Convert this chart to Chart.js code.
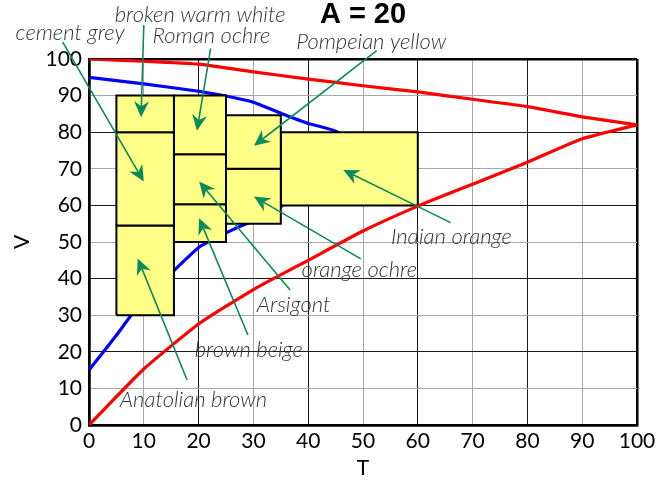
<!DOCTYPE html>
<html>
<head>
<meta charset="utf-8">
<script src="https://cdn.jsdelivr.net/npm/chart.js@4.4.1/dist/chart.umd.min.js"></script>
<style>
  html, body { margin: 0; padding: 0; background: #fff; }
  #wrap { width: 656px; height: 481px; position: relative; }
</style>
</head>
<body>
<div id="wrap"><canvas id="c" width="656" height="481"></canvas></div>
<script>
// ---- Data ----
const tickValues = [0, 10, 20, 30, 40, 50, 60, 70, 80, 90, 100];

// Upper red boundary (T, V)
const redUpperT = [0, 10, 20, 30, 40, 50, 60, 70, 80, 90, 100];
const redUpperV = [100, 99.4, 98.6, 96.5, 94.5, 92.7, 91, 89, 87, 84.2, 82];
// Lower red boundary
const redLowerT = [0, 10, 20, 30, 40, 50, 60, 70, 80, 90, 100];
const redLowerV = [0, 15.3, 27.6, 37, 45, 53, 59.8, 65.8, 71.8, 78.2, 82];
// Blue closed curve (lower branch, hidden connector, upper branch)
const blueT = [0, 5, 7.7, 10, 15.6, 20, 25, 29, 34, 37, 42, 45.5, 40, 35, 30, 25, 20, 10, 0];
const blueV = [15, 24.5, 30, 33.5, 42.3, 48.5, 52.5, 55.2, 58, 63, 72, 80, 82.4, 85.2, 88.2, 89.9, 91.2, 93.2, 95];

// Colour zones (rectangles)
const boxNames = ['broken warm white', 'cement grey', 'Anatolian brown', 'Roman ochre', 'Arsigont', 'brown beige', 'Pompeian yellow', 'orange ochre', 'Indian orange'];
const boxT0 = [5, 5, 5, 15.5, 15.5, 15.5, 25, 25, 35];
const boxT1 = [15.5, 15.5, 15.5, 25, 25, 25, 35, 35, 60];
const boxV0 = [80, 54.5, 30, 74, 60.3, 50, 70, 55, 60];
const boxV1 = [90, 80, 54.5, 90, 74, 60.3, 84.6, 70, 80];

// Annotation labels: text anchor (left, middle) and arrow from/to, in data units
const labelText = ['cement grey', 'broken warm white', 'Roman ochre', 'Pompeian yellow', 'Indian orange', 'orange ochre', 'Arsigont', 'brown beige', 'Anatolian brown'];
const labelT = [-13.4, 4.7, 11.6, 37.8, 55.1, 38.8, 30.6, 19.3, 5.6];
const labelV = [107.1, 112.0, 106.3, 104.6, 51.3, 42.3, 32.8, 20.5, 6.8];
const arrowFromT = [-4.8, 10.0, 22.2, 52.5, 66.0, 49.6, 36.7, 29.0, 17.9];
const arrowFromV = [104.6, 109.3, 102.9, 102.3, 55.3, 45.4, 36.9, 24.6, 12.3];
const arrowToT = [10.0, 9.5, 19.7, 30.1, 46.4, 30.1, 20.1, 20.1, 8.9];
const arrowToV = [66.5, 84.1, 80.4, 76.3, 69.7, 62.4, 66.5, 56.5, 45.5];

const titleText = 'A = 20';
const titleT = 50, titleV = 112;

// ---- Build datasets ----
const zip = (xs, ys) => xs.map((x, i) => ({ x, y: ys[i] }));

const datasets = [];
datasets.push({
  label: 'upper', data: zip(redUpperT, redUpperV), borderColor: '#ff0000', borderWidth: 3.2,
  pointRadius: 0, fill: false, tension: 0.15, order: 1
});
datasets.push({
  label: 'lower', data: zip(redLowerT, redLowerV), borderColor: '#ff0000', borderWidth: 3.2,
  pointRadius: 0, fill: false, tension: 0.15, order: 1
});
datasets.push({
  label: 'blue', data: zip(blueT, blueV), borderColor: '#0000ff', borderWidth: 3.2,
  pointRadius: 0, fill: false, tension: 0.1, order: 10
});
boxNames.forEach((name, i) => {
  datasets.push({
    label: name,
    data: [
      { x: boxT0[i], y: boxV0[i] }, { x: boxT0[i], y: boxV1[i] },
      { x: boxT1[i], y: boxV1[i] }, { x: boxT1[i], y: boxV0[i] },
      { x: boxT0[i], y: boxV0[i] }
    ],
    borderColor: '#000', borderWidth: 2, backgroundColor: '#ffff88',
    pointRadius: 0, fill: 'shape', tension: 0, order: 5
  });
});

// ---- Annotation plugin (drawn via the chart scales) ----
const annotations = {
  id: 'annotations',
  afterDraw(chart) {
    const ctx = chart.ctx;
    const xs = chart.scales.x, ys = chart.scales.y;
    ctx.save();
    const green = '#0b8a5c';
    for (let i = 0; i < labelText.length; i++) {
      const x1 = xs.getPixelForValue(arrowFromT[i]), y1 = ys.getPixelForValue(arrowFromV[i]);
      const x2 = xs.getPixelForValue(arrowToT[i]), y2 = ys.getPixelForValue(arrowToV[i]);
      const ang = Math.atan2(y2 - y1, x2 - x1);
      const L = 16, W = 7.5, notch = 11;
      ctx.strokeStyle = green; ctx.fillStyle = green; ctx.lineWidth = 1.6;
      ctx.beginPath();
      ctx.moveTo(x1, y1);
      ctx.lineTo(x2 - Math.cos(ang) * notch, y2 - Math.sin(ang) * notch);
      ctx.stroke();
      ctx.beginPath();
      ctx.moveTo(x2, y2);
      ctx.lineTo(x2 - Math.cos(ang) * L - Math.sin(ang) * W, y2 - Math.sin(ang) * L + Math.cos(ang) * W);
      ctx.lineTo(x2 - Math.cos(ang) * notch, y2 - Math.sin(ang) * notch);
      ctx.lineTo(x2 - Math.cos(ang) * L + Math.sin(ang) * W, y2 - Math.sin(ang) * L - Math.cos(ang) * W);
      ctx.closePath();
      ctx.fill();
    }
    ctx.fillStyle = '#333';
    ctx.font = 'italic 300 22px Lato, "Open Sans", sans-serif';
    ctx.textAlign = 'left'; ctx.textBaseline = 'middle';
    for (let i = 0; i < labelText.length; i++) {
      ctx.fillText(labelText[i], xs.getPixelForValue(labelT[i]), ys.getPixelForValue(labelV[i]));
    }
    ctx.fillStyle = '#000';
    ctx.font = 'bold 29px "Liberation Sans", Arial, sans-serif';
    ctx.textAlign = 'center';
    ctx.fillText(titleText, xs.getPixelForValue(titleT), ys.getPixelForValue(titleV));
    ctx.restore();
  }
};

const gridColor = (ctx) => {
  const v = ctx.tick ? ctx.tick.value : 0;
  if (v === 0 || v === 100) return '#000';
  return (v % 20 === 0) ? '#1a1a1a' : '#a8a8a8';
};
const gridWidth = (ctx) => {
  const v = ctx.tick ? ctx.tick.value : 0;
  return (v === 0 || v === 100) ? 2.5 : 1;
};

new Chart(document.getElementById('c'), {
  type: 'line',
  data: { datasets },
  options: {
    responsive: false,
    animation: false,
    layout: { padding: { left: 0, right: 19, top: 59, bottom: 0 } },
    plugins: { legend: { display: false }, tooltip: { enabled: false } },
    scales: {
      x: {
        type: 'linear', min: 0, max: 100,
        afterBuildTicks: (s) => { s.ticks = tickValues.map(v => ({ value: v })); },
        afterFit: (s) => { s.height = 56; s.paddingLeft = 0; s.paddingRight = 0; },
        grid: { color: gridColor, lineWidth: gridWidth, drawTicks: false },
        border: { display: true, color: '#000', width: 2.5 },
        ticks: { color: '#000', font: { family: 'Lato', size: 21 }, padding: 4, maxRotation: 0 },
        title: { display: true, text: 'T', color: '#000', font: { family: 'Lato', size: 21, lineHeight: 1.2 }, padding: 0 }
      },
      y: {
        type: 'linear', min: 0, max: 100,
        afterBuildTicks: (s) => { s.ticks = tickValues.map(v => ({ value: v })); },
        afterFit: (s) => { s.width = 89; s.paddingTop = 0; s.paddingBottom = 0; },
        grid: { color: gridColor, lineWidth: gridWidth, drawTicks: false },
        border: { display: true, color: '#000', width: 2.5 },
        ticks: { color: '#000', font: { family: 'Lato', size: 21 }, padding: 7 },
        title: { display: true, text: 'V', color: '#000', font: { family: 'Lato', size: 21, lineHeight: 1.2 }, padding: { top: 10, bottom: 0 } }
      }
    }
  },
  plugins: [annotations]
});
</script>
</body>
</html>
